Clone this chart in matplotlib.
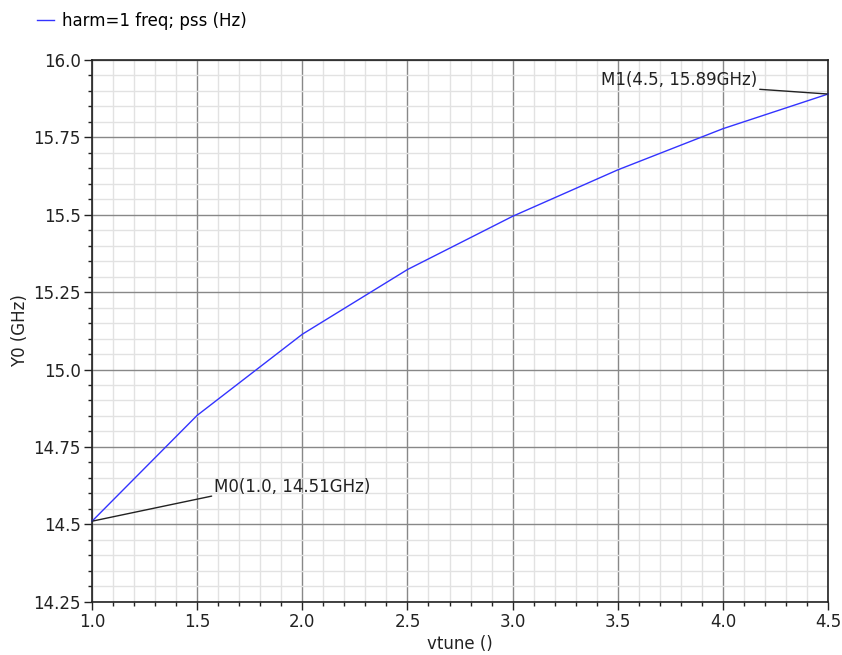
import matplotlib
matplotlib.use("Agg")
import matplotlib.pyplot as plt
from matplotlib.ticker import MultipleLocator, FormatStrFormatter, FuncFormatter
from matplotlib.lines import Line2D

vtune = [1.0, 1.5, 2.0, 2.5, 3.0, 3.5, 4.0, 4.5]
freq_ghz = [14.51, 14.852, 15.114, 15.323, 15.495, 15.645, 15.778, 15.89]
legend_label = "harm=1 freq; pss (Hz)"
m0_label = "M0(1.0, 14.51GHz)"
m1_label = "M1(4.5, 15.89GHz)"

plt.rcParams['font.family'] = ['DejaVu Sans']
FS = 12
fig = plt.figure(figsize=(8.42, 6.55), dpi=100)
ax = fig.add_axes([0.1093, 0.0814, 0.8741, 0.827])

ax.set_xlim(1.0, 4.5)
ax.set_ylim(14.25, 16.0)
ax.xaxis.set_major_locator(MultipleLocator(0.5))
ax.xaxis.set_minor_locator(MultipleLocator(0.1))
ax.yaxis.set_major_locator(MultipleLocator(0.25))
ax.yaxis.set_minor_locator(MultipleLocator(0.05))
ax.xaxis.set_major_formatter(FormatStrFormatter('%.1f'))

def yfmt(v, pos):
    s = f"{v:.2f}"
    if s.endswith('0'):
        s = s[:-1]
    return s
ax.yaxis.set_major_formatter(FuncFormatter(yfmt))

ax.grid(which='minor', color='#e2e2e2', linewidth=1.0)
ax.grid(which='major', color='#888888', linewidth=1.0)
ax.set_axisbelow(True)

for s in ax.spines.values():
    s.set_color('#222222')
    s.set_linewidth(1.2)

ax.tick_params(which='major', direction='out', length=6, width=1, color='#222222',
               labelsize=FS, labelcolor='#222222', pad=2)
ax.tick_params(which='minor', direction='out', length=3, width=1, color='#222222')
ax.tick_params(top=False, right=False, which='both')

ax.plot(vtune, freq_ghz, color='#3333ff', linewidth=1.0, clip_on=False, zorder=3)

# markers
ax.annotate(m0_label, xy=(vtune[0], freq_ghz[0]), xytext=(1.582, 14.622),
            fontsize=FS, color='#222222', va='center', ha='left',
            arrowprops=dict(arrowstyle='-', color='#222222', lw=1.0,
                            shrinkA=0, shrinkB=0, relpos=(0.0, 0.0)),
            annotation_clip=False)
ax.annotate(m1_label, xy=(vtune[-1], freq_ghz[-1]), xytext=(4.162, 15.935),
            fontsize=FS, color='#222222', va='center', ha='right',
            arrowprops=dict(arrowstyle='-', color='#222222', lw=1.0,
                            shrinkA=0, shrinkB=0, relpos=(1.0, 0.0)),
            annotation_clip=False)

ax.set_xlabel("vtune ()", fontsize=FS, color='#222222', labelpad=3)
ax.set_ylabel("Y0 (GHz)", fontsize=FS, color='#222222', labelpad=3)

# legend at top left
handle = Line2D([], [], color='#3333ff', linewidth=1.0)
fig.legend([handle], [legend_label], loc='upper left', bbox_to_anchor=(0.03, 1.0),
           frameon=False, fontsize=FS, handlelength=1.0, handletextpad=0.5,
           borderaxespad=0.3)

fig.savefig("out.png", dpi=100)
